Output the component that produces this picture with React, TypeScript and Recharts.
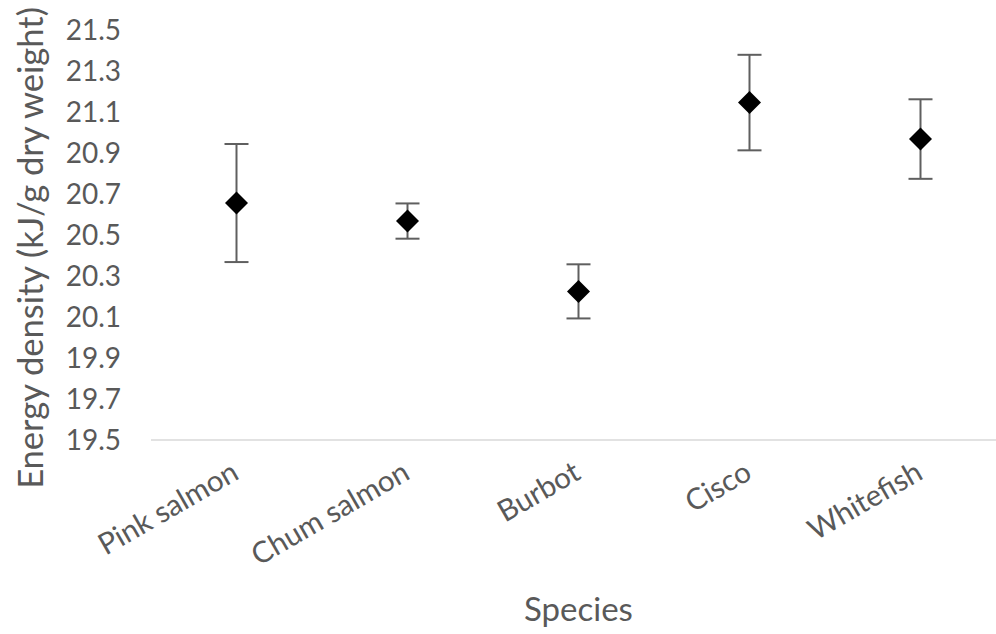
import React from 'react';
import { ComposedChart, Scatter, XAxis, YAxis, ErrorBar } from 'recharts';

const species = ['Pink salmon', 'Chum salmon', 'Burbot', 'Cisco', 'Whitefish'];
const meanEnergy = [20.656, 20.568, 20.225, 21.146, 20.968];
const errEnergy = [0.288, 0.086, 0.132, 0.233, 0.194];
const yTicks = [19.5, 19.7, 19.9, 20.1, 20.3, 20.5, 20.7, 20.9, 21.1, 21.3, 21.5];

const data = species.map((s, i) => ({ species: s, energy: meanEnergy[i], err: errEnergy[i] }));

const FONT = 'Lato, "Open Sans", sans-serif';
const GREY = '#595959';

const Diamond = (props: any) => {
  const { cx, cy } = props;
  if (cx == null || cy == null) return null;
  const r = 11.5;
  return (
    <polygon
      points={`${cx},${cy - r} ${cx + r},${cy} ${cx},${cy + r} ${cx - r},${cy}`}
      fill="#000000"
    />
  );
};

const XTick = (props: any) => {
  const { x, y, payload } = props;
  const x0 = x + 4;
  const y0 = y + 38;
  return (
    <text
      x={x0}
      y={y0}
      textAnchor="end"
      transform={`rotate(-30, ${x0}, ${y0})`}
      fill={GREY}
      fontFamily={FONT}
      fontSize={29.5}
    >
      {payload.value}
    </text>
  );
};

const YLabel = (props: any) => {
  const { viewBox } = props;
  const lx = viewBox.x + 29;
  const ly = viewBox.y + viewBox.height / 2 + 13;
  return (
    <text
      x={lx}
      y={ly}
      textAnchor="middle"
      dominantBaseline="central"
      transform={`rotate(-90, ${lx}, ${ly})`}
      fill={GREY}
      fontFamily={FONT}
      fontSize={34.5}
    >
      Energy density (kJ/g dry weight)
    </text>
  );
};

const XLabel = (props: any) => {
  const { viewBox } = props;
  const lx = viewBox.x + viewBox.width / 2;
  const ly = 621;
  return (
    <text x={lx} y={ly} textAnchor="middle" fill={GREY} fontFamily={FONT} fontSize={33}>
      Species
    </text>
  );
};

export default function App() {
  return (
    <div style={{ position: 'absolute', left: 0, top: 0, width: 996, height: 634, overflow: 'hidden', background: '#fff' }}>
      <ComposedChart width={996} height={634} data={data} margin={{ top: 30, right: -10, left: 0, bottom: 0 }}>
        <XAxis
          dataKey="species"
          type="category"
          height={194}
          padding={{ left: 85.5, right: 85.5 }}
          tickLine={false}
          tickSize={0}
          tickMargin={0}
          axisLine={{ stroke: '#d9d9d9', strokeWidth: 1.5 }}
          tick={<XTick />}
          interval={0}
          label={<XLabel />}
        />
        <YAxis
          type="number"
          domain={[19.5, 21.5]}
          ticks={yTicks}
          width={151}
          axisLine={false}
          tickLine={false}
          tickSize={0}
          tickMargin={30}
          tickFormatter={(v: number) => v.toFixed(1)}
          tick={{ fill: GREY, fontFamily: FONT, fontSize: 28 }}
          label={<YLabel />}
          allowDataOverflow
        />
        <Scatter dataKey="energy" shape={<Diamond />} isAnimationActive={false}>
          <ErrorBar dataKey="err" direction="y" width={12} stroke="#5f5f5f" strokeWidth={2} />
        </Scatter>
      </ComposedChart>
    </div>
  );
}
